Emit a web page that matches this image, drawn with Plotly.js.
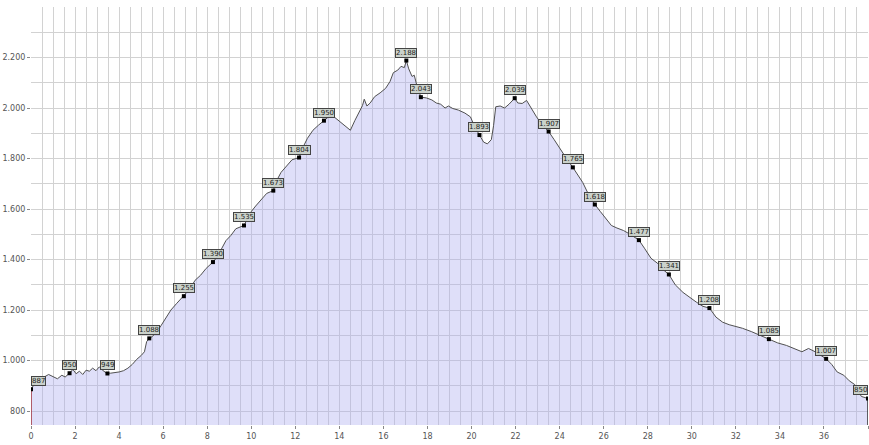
<!DOCTYPE html>
<html>
<head>
<meta charset="utf-8">
<script src="https://cdn.plot.ly/plotly-3.0.1.min.js"></script>
<style>
html,body{margin:0;padding:0;background:#fff;}
#chart{width:869px;height:445px;}
</style>
</head>
<body>
<div id="chart"></div>
<script>
// Distance (km) and elevation (m) of the profile
const distKm = [0.00,0.15,0.30,0.45,0.60,0.80,1.00,1.20,1.40,1.55,1.75,1.90,2.05,2.20,2.35,2.50,2.65,2.80,2.95,3.10,3.25,3.40,3.60,3.80,4.00,4.20,4.40,4.60,4.80,5.00,5.15,5.25,5.37,5.50,5.70,5.90,6.10,6.35,6.60,6.94,7.20,7.45,7.70,7.95,8.26,8.45,8.65,8.85,9.07,9.30,9.67,9.85,10.00,10.20,10.45,10.70,11.00,11.15,11.35,11.60,11.85,12.17,12.35,12.55,12.80,13.05,13.30,13.55,13.80,14.05,14.30,14.50,14.70,14.90,15.05,15.13,15.25,15.40,15.60,15.85,16.10,16.30,16.45,16.65,16.80,16.95,17.04,17.15,17.30,17.40,17.50,17.70,17.95,18.20,18.40,18.60,18.80,18.95,19.15,19.40,19.70,19.95,20.15,20.36,20.55,20.72,20.90,21.00,21.10,21.30,21.50,21.70,21.96,22.10,22.30,22.50,22.70,22.95,23.20,23.50,23.75,24.00,24.20,24.35,24.60,24.85,25.05,25.30,25.60,25.85,26.10,26.35,26.60,26.90,27.20,27.60,27.85,28.15,28.45,28.70,28.96,29.25,29.60,29.90,30.20,30.50,30.80,31.10,31.40,31.70,32.00,32.30,32.70,33.10,33.50,33.90,34.30,34.70,35.00,35.30,35.60,36.10,36.35,36.60,36.90,37.15,37.40,37.55,37.70,38.00];
const elevM = [887,905,925,918,935,945,938,928,942,935,950,965,948,958,945,962,958,970,960,975,962,952,950,952,955,960,970,985,1005,1020,1035,1075,1088,1095,1112,1138,1165,1200,1225,1255,1282,1318,1338,1365,1390,1410,1440,1475,1495,1522,1535,1565,1590,1612,1635,1662,1673,1712,1745,1770,1795,1804,1845,1880,1912,1932,1950,1968,1962,1945,1925,1912,1950,1985,2010,2035,2008,2020,2045,2060,2078,2105,2140,2150,2165,2160,2188,2155,2125,2130,2095,2043,2040,2032,2020,2015,2000,2008,1998,1992,1980,1965,1925,1893,1865,1858,1875,1930,2005,2008,2000,2015,2039,2020,2018,2030,2000,1965,1935,1907,1875,1840,1815,1795,1765,1730,1705,1660,1618,1590,1560,1535,1525,1515,1500,1477,1445,1405,1385,1360,1341,1300,1270,1250,1232,1215,1208,1172,1152,1142,1135,1128,1115,1100,1085,1070,1060,1045,1035,1048,1035,1007,985,955,942,920,905,880,858,850];

// Labelled waypoints
const markDist = [0.00,1.75,3.47,5.37,6.94,8.26,9.67,11.00,12.17,13.30,17.04,17.70,20.36,21.96,23.50,24.60,25.60,27.60,28.96,30.80,33.50,36.10,38.00];
const markElev = [887,950,949,1088,1255,1390,1535,1673,1804,1950,2188,2043,1893,2039,1907,1765,1618,1477,1341,1208,1085,1007,850];

// Axis ticks
const xTicks = [0,2,4,6,8,10,12,14,16,18,20,22,24,26,28,30,32,34,36,38];
const yTicks = [800,1000,1200,1400,1600,1800,2000,2200];

const yMin = 745, yMax = 2400;

function fmt(v){
  const s = String(Math.round(v));
  return s.length > 3 ? s.slice(0, s.length-3) + '.' + s.slice(s.length-3) : s;
}

const profile = {
  x: distKm, y: elevM, type: 'scatter', mode: 'lines',
  fill: 'tozeroy', fillcolor: 'rgba(170,170,240,0.38)',
  line: {color: '#505050', width: 1}, hoverinfo: 'skip'
};
const startLine = {
  x: [distKm[0], distKm[0]], y: [yMin, elevM[0]], type: 'scatter', mode: 'lines',
  line: {color: '#a0303a', width: 1.5}, hoverinfo: 'skip'
};
const endLine = {
  x: [distKm[distKm.length-1], distKm[distKm.length-1]], y: [yMin, elevM[elevM.length-1]],
  type: 'scatter', mode: 'lines', line: {color: '#303030', width: 1.5}, hoverinfo: 'skip'
};
const marks = {
  x: markDist, y: markElev, type: 'scatter', mode: 'markers',
  marker: {symbol: 'square', size: 4, color: '#000'}, hoverinfo: 'skip'
};

const annotations = markDist.map((d, i) => ({
  x: d, y: markElev[i], xref: 'x', yref: 'y', text: fmt(markElev[i]),
  showarrow: false, yshift: 8,
  xanchor: i === markDist.length - 1 ? 'right' : (i === 0 ? 'left' : 'center'),
  font: {family: 'DejaVu Sans', size: 7, color: '#222'},
  bgcolor: 'rgba(200,208,200,0.95)', bordercolor: '#444', borderwidth: 1, borderpad: 0
}));

const layout = {
  width: 869, height: 445,
  margin: {l: 31, r: 1, t: 7, b: 20},
  paper_bgcolor: '#fff', plot_bgcolor: '#fff',
  showlegend: false,
  separators: ',.',
  font: {family: 'DejaVu Sans', size: 8, color: '#555'},
  xaxis: {
    range: [0, 38], tickmode: 'array', tickvals: xTicks, ticktext: xTicks.map(String),
    showgrid: true, gridcolor: '#d2d2d2', gridwidth: 1,
    minor: {dtick: 0.5, showgrid: true, gridcolor: '#d2d2d2', gridwidth: 1},
    ticks: 'outside', ticklen: 3, tickcolor: '#888',
    zeroline: false, showline: false, fixedrange: true
  },
  yaxis: {
    range: [yMin, yMax], tickmode: 'array', tickvals: yTicks, ticktext: yTicks.map(fmt),
    showgrid: true, gridcolor: '#d2d2d2', gridwidth: 1,
    minor: {dtick: 100, showgrid: true, gridcolor: '#d2d2d2', gridwidth: 1},
    ticks: 'outside', ticklen: 3, tickcolor: '#888',
    zeroline: false, showline: false, fixedrange: true
  },
  annotations: annotations
};

Plotly.newPlot('chart', [profile, startLine, endLine, marks], layout, {displayModeBar: false, staticPlot: true});
</script>
</body>
</html>
